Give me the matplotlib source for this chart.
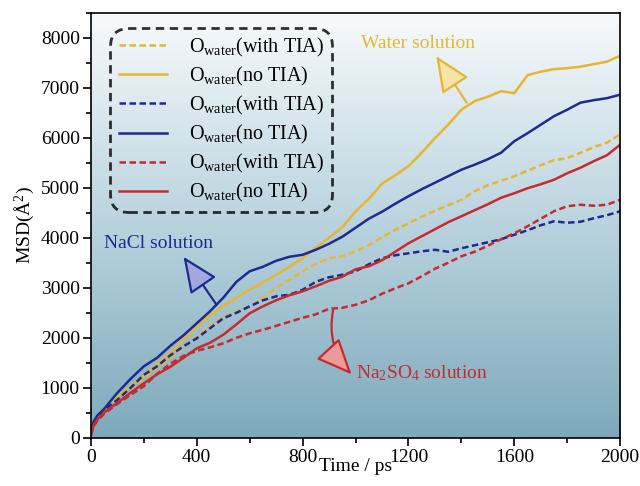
import numpy as np
import matplotlib.pyplot as plt
from matplotlib.colors import LinearSegmentedColormap
from matplotlib.ticker import MultipleLocator

# ---- data ----
t = [0, 10, 25, 50, 100, 150, 200, 250, 300, 350, 400, 450, 500, 550, 600, 650,
     700, 750, 800, 850, 900, 950, 1000, 1050, 1100, 1150, 1200, 1250, 1300, 1350,
     1400, 1450, 1500, 1550, 1600, 1650, 1700, 1750, 1800, 1850, 1900, 1950, 2000]

water_no = [100, 300, 420, 600, 820, 1030, 1230, 1480, 1710, 1950, 2230, 2450, 2640, 2800,
            2960, 3110, 3260, 3420, 3590, 3800, 4000, 4210, 4530, 4780, 5080, 5250, 5430,
            5700, 5990, 6260, 6560, 6730, 6820, 6930, 6890, 7250, 7320, 7370, 7390, 7420,
            7470, 7520, 7640]
water_with = [100, 280, 400, 560, 760, 980, 1190, 1400, 1590, 1800, 2030, 2250, 2420, 2530,
              2630, 2800, 3000, 3160, 3330, 3480, 3590, 3630, 3730, 3850, 4010, 4160, 4290,
              4420, 4540, 4650, 4760, 4930, 5050, 5140, 5230, 5340, 5450, 5550, 5590, 5700,
              5810, 5900, 6070]
nacl_no = [100, 320, 450, 580, 900, 1180, 1430, 1600, 1840, 2050, 2290, 2530, 2800, 3120,
           3330, 3420, 3540, 3620, 3660, 3760, 3880, 4020, 4200, 4380, 4520, 4680, 4830,
           4970, 5100, 5230, 5360, 5460, 5570, 5700, 5930, 6090, 6260, 6430, 6560, 6700,
           6750, 6790, 6860]
nacl_with = [100, 270, 400, 560, 760, 1000, 1260, 1430, 1650, 1830, 1990, 2190, 2390, 2500,
             2630, 2750, 2830, 2860, 2960, 3120, 3210, 3260, 3330, 3470, 3590, 3650, 3690,
             3730, 3760, 3720, 3790, 3850, 3910, 3970, 4060, 4150, 4250, 4330, 4300, 4320,
             4390, 4450, 4530]
na2so4_no = [50, 250, 370, 510, 700, 900, 1090, 1270, 1420, 1600, 1790, 1900, 2060, 2270,
             2490, 2630, 2750, 2850, 2930, 3030, 3140, 3220, 3370, 3430, 3550, 3720, 3890,
             4030, 4170, 4310, 4430, 4550, 4670, 4800, 4890, 4990, 5070, 5160, 5290, 5400,
             5530, 5650, 5860]
na2so4_with = [50, 230, 350, 480, 680, 860, 1030, 1280, 1480, 1640, 1740, 1810, 1890, 2000,
               2090, 2160, 2240, 2320, 2400, 2470, 2580, 2600, 2660, 2750, 2880, 2990, 3090,
               3230, 3380, 3500, 3630, 3720, 3840, 3970, 4090, 4230, 4380, 4530, 4630, 4660,
               4640, 4660, 4760]

YEL = "#e5b634"
BLU = "#1f2a8f"
RED = "#c62a2e"

plt.rcParams.update({
    "font.family": "Liberation Serif",
    "mathtext.fontset": "custom",
    "mathtext.rm": "Liberation Serif",
    "mathtext.it": "Liberation Serif:italic",
    "font.size": 14,
})

fig = plt.figure(figsize=(6.4, 4.86), dpi=100)
ax = fig.add_axes([0.142, 0.099, 0.827, 0.875])

# gradient background
bg = LinearSegmentedColormap.from_list("bg", ["#7ea9bc", "#b9d3de", "#f7fafc"])
grad = np.linspace(0, 1, 256).reshape(-1, 1)
ax.imshow(grad, cmap=bg, origin="lower", aspect="auto",
          extent=[0, 2000, 0, 8500], zorder=0)

lw = 1.8
dash = (2.6, 1.4)
ax.plot(t, water_with, color=YEL, lw=lw, dashes=dash, label=r"O$_{\rm water}$(with TIA)")
ax.plot(t, water_no, color=YEL, lw=lw, label=r"O$_{\rm water}$(no TIA)")
ax.plot(t, nacl_with, color=BLU, lw=lw, dashes=dash, label=r"O$_{\rm water}$(with TIA)")
ax.plot(t, nacl_no, color=BLU, lw=lw, label=r"O$_{\rm water}$(no TIA)")
ax.plot(t, na2so4_with, color=RED, lw=lw, dashes=dash, label=r"O$_{\rm water}$(with TIA)")
ax.plot(t, na2so4_no, color=RED, lw=lw, label=r"O$_{\rm water}$(no TIA)")

ax.set_xlim(0, 2000)
ax.set_ylim(0, 8500)
ax.xaxis.set_major_locator(MultipleLocator(400))
ax.xaxis.set_minor_locator(MultipleLocator(200))
ax.yaxis.set_major_locator(MultipleLocator(1000))
ax.yaxis.set_minor_locator(MultipleLocator(500))
ax.tick_params(which="both", direction="out", top=False, right=False, width=1.2)
ax.tick_params(which="major", length=6, labelsize=14, pad=2)
ax.tick_params(which="minor", length=3.5)
for s in ax.spines.values():
    s.set_linewidth(1.2)

ax.set_xlabel("Time / ps", fontsize=14, labelpad=-6)
ax.set_ylabel(r"MSD(${\rm \AA}^2$)", fontsize=14, labelpad=3)

leg = ax.legend(loc="upper left", bbox_to_anchor=(0.018, 0.988), fontsize=14.5,
                frameon=True, fancybox=True, handlelength=2.4, handletextpad=1.1,
                labelspacing=0.3, borderpad=0.4)
fr = leg.get_frame()
fr.set_facecolor("none")
fr.set_edgecolor("black")
fr.set_linestyle((0, (3, 2)))
fr.set_linewidth(2)
fr.set_boxstyle("round", pad=0.0, rounding_size=0.9)

# annotations
head = "-|>,head_length=1.6,head_width=0.7"
ax.annotate("", xy=(1305, 7630), xytext=(1420, 6700),
            arrowprops=dict(arrowstyle=head, fc="#f7e3a6", ec=YEL, lw=1.6,
                            shrinkA=0, shrinkB=0))
ax.text(1020, 7880, "Water solution", color=YEL, fontsize=14, va="center")

ax.annotate("", xy=(350, 3620), xytext=(475, 2660),
            arrowprops=dict(arrowstyle=head, fc="#a3a8dc", ec=BLU, lw=1.6,
                            shrinkA=0, shrinkB=0))
ax.text(50, 3880, "NaCl solution", color=BLU, fontsize=14, va="center")

ax.annotate("", xy=(985, 1270), xytext=(915, 2550),
            arrowprops=dict(arrowstyle=head, connectionstyle="arc3,rad=0.25",
                            fc="#ec9a98", ec=RED, lw=1.6, shrinkA=0, shrinkB=0))
ax.text(1000, 1300, r"Na$_2$SO$_4$ solution", color=RED, fontsize=14, va="center")

fig.savefig("out.png", dpi=100)
